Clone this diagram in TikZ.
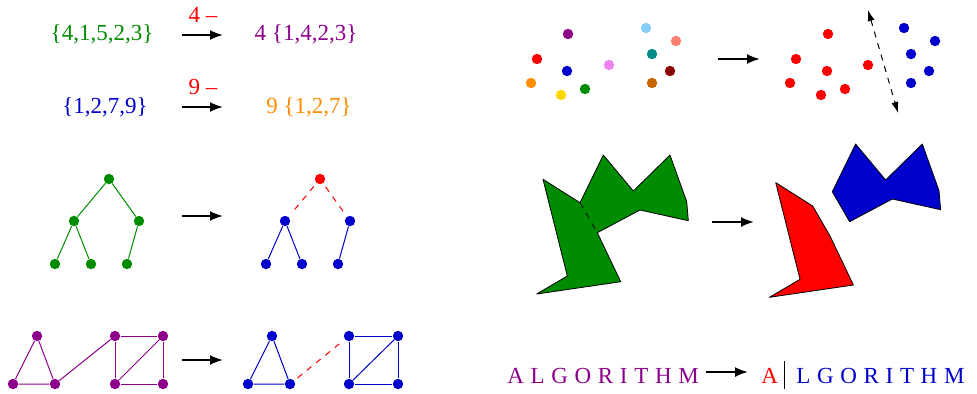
\documentclass[tikz,border=0pt]{standalone}
\usepackage{fontspec}
\setmainfont{Liberation Serif}
\usetikzlibrary{arrows.meta}

\definecolor{setgreen}{RGB}{0,140,0}
\definecolor{setpurple}{RGB}{140,0,140}
\definecolor{setblue}{RGB}{0,0,205}
\definecolor{setorange}{RGB}{255,140,0}
\definecolor{dotgold}{RGB}{255,215,0}
\definecolor{dotviolet}{RGB}{238,130,238}
\definecolor{dotsky}{RGB}{135,206,250}
\definecolor{dotsalmon}{RGB}{250,128,114}
\definecolor{dotteal}{RGB}{0,139,139}
\definecolor{dotmaroon}{RGB}{139,0,0}
\definecolor{dotbrown}{RGB}{200,100,0}

\begin{document}
\begin{tikzpicture}[
    x=0.5pt, y=-0.5pt,
    every node/.style={font=\fontsize{11.5}{13}\selectfont},
    vertex/.style={circle, inner sep=0pt, minimum size=5.2pt},
    arrow/.style={-{Latex[length=6.5pt, width=5pt]}, line width=1pt},
    edge/.style={line width=0.5pt},
    cut/.style={red, dashed, line width=0.5pt, shorten <=2pt, shorten >=2pt},
    spaced/.style={font=\fontsize{11.5}{13}\selectfont\addfontfeature{LetterSpace=29}, inner sep=0pt, anchor=base west},
    piece/.style={draw=black, line width=0.4pt, line join=round}
]
    \useasboundingbox (0,0) rectangle (977,393);

    % Sets
    \node[text=setgreen] (setA) at (102,34) {\{4,1,5,2,3\}};
    \node[text=setpurple] (setA') at (306,34) {4 \{1,4,2,3\}};
    \node[text=red] (popA) at (203,15) {4 --};
    \node[text=setblue] (setB) at (105,107) {\{1,2,7,9\}};
    \node[text=setorange] (setB') at (309,107) {9 \{1,2,7\}};
    \node[text=red] (popB) at (203,87) {9 --};

    % Trees
    \node[vertex, fill=setgreen] (t0) at (109,179) {};
    \node[vertex, fill=setgreen] (t1) at (74,221) {};
    \node[vertex, fill=setgreen] (t2) at (139,221) {};
    \node[vertex, fill=setgreen] (t3) at (55,264) {};
    \node[vertex, fill=setgreen] (t4) at (91,264) {};
    \node[vertex, fill=setgreen] (t5) at (127,264) {};
    \node[vertex, fill=red] (u0) at (320,179) {};
    \node[vertex, fill=setblue] (u1) at (285,221) {};
    \node[vertex, fill=setblue] (u2) at (350,221) {};
    \node[vertex, fill=setblue] (u3) at (266,264) {};
    \node[vertex, fill=setblue] (u4) at (302,264) {};
    \node[vertex, fill=setblue] (u5) at (338,264) {};

    \draw[edge, setgreen] (t0) -- (t1);
    \draw[edge, setgreen] (t0) -- (t2);
    \draw[edge, setgreen] (t1) -- (t3);
    \draw[edge, setgreen] (t1) -- (t4);
    \draw[edge, setgreen] (t2) -- (t5);
    \draw[cut] (u0) -- (u1);
    \draw[cut] (u0) -- (u2);
    \draw[edge, setblue] (u1) -- (u3);
    \draw[edge, setblue] (u1) -- (u4);
    \draw[edge, setblue] (u2) -- (u5);

    % Graphs
    \node[vertex, fill=setpurple] (g1) at (37,336) {};
    \node[vertex, fill=setpurple] (g2) at (13,384) {};
    \node[vertex, fill=setpurple] (g3) at (55,384) {};
    \node[vertex, fill=setpurple] (g4) at (115,336) {};
    \node[vertex, fill=setpurple] (g5) at (163,336) {};
    \node[vertex, fill=setpurple] (g6) at (115,384) {};
    \node[vertex, fill=setpurple] (g7) at (163,384) {};
    \node[vertex, fill=setblue] (h1) at (272,336) {};
    \node[vertex, fill=setblue] (h2) at (248,384) {};
    \node[vertex, fill=setblue] (h3) at (290,384) {};
    \node[vertex, fill=setblue] (h4) at (349,336) {};
    \node[vertex, fill=setblue] (h5) at (398,336) {};
    \node[vertex, fill=setblue] (h6) at (349,384) {};
    \node[vertex, fill=setblue] (h7) at (398,384) {};

    \draw[edge, setpurple] (g1) -- (g2) -- (g3) -- (g1);
    \draw[edge, setpurple] (g3) -- (g4);
    \draw[edge, setpurple] (g4) -- (g5) -- (g7) -- (g6) -- (g4);
    \draw[edge, setpurple] (g6) -- (g5);
    \draw[edge, setblue] (h1) -- (h2) -- (h3) -- (h1);
    \draw[cut] (h3) -- (h4);
    \draw[edge, setblue] (h4) -- (h5) -- (h7) -- (h6) -- (h4);
    \draw[edge, setblue] (h6) -- (h5);

    % Points
    \node[vertex, fill=setpurple] (p1) at (568,34) {};
    \node[vertex, fill=red] (p2) at (537,59) {};
    \node[vertex, fill=setblue] (p3) at (567,71) {};
    \node[vertex, fill=setorange] (p4) at (531,83) {};
    \node[vertex, fill=dotgold] (p5) at (561,95) {};
    \node[vertex, fill=setgreen] (p6) at (585,89) {};
    \node[vertex, fill=dotviolet] (p7) at (609,65) {};
    \node[vertex, fill=dotsky] (p8) at (646,28) {};
    \node[vertex, fill=dotsalmon] (p9) at (676,41) {};
    \node[vertex, fill=dotteal] (p10) at (652,54) {};
    \node[vertex, fill=dotmaroon] (p11) at (670,71) {};
    \node[vertex, fill=dotbrown] (p12) at (652,83) {};
    \node[vertex, fill=red] (q1) at (828,34) {};
    \node[vertex, fill=red] (q2) at (796,59) {};
    \node[vertex, fill=red] (q3) at (827,71) {};
    \node[vertex, fill=red] (q4) at (790,83) {};
    \node[vertex, fill=red] (q5) at (821,95) {};
    \node[vertex, fill=red] (q6) at (845,89) {};
    \node[vertex, fill=red] (q7) at (868,65) {};
    \node[vertex, fill=setblue] (q8) at (904,28) {};
    \node[vertex, fill=setblue] (q9) at (935,41) {};
    \node[vertex, fill=setblue] (q10) at (911,54) {};
    \node[vertex, fill=setblue] (q11) at (929,71) {};
    \node[vertex, fill=setblue] (q12) at (911,83) {};
    \coordinate (sepTop) at (868,10);
    \coordinate (sepBot) at (898,113);
    \draw[dashed, line width=0.5pt, {Latex[length=5.5pt, width=3.5pt]}-{Latex[length=5.5pt, width=3.5pt]}] (sepTop) -- (sepBot);

    % Polygons
    \fill[setgreen] (543,179.3) -- (580,202.7) -- (603.3,155) -- (633.3,191) -- (670,155)
        -- (686.7,201.7) -- (688.3,220.7) -- (640,210) -- (597.3,232.7) -- (620.7,281.7)
        -- (536.7,294) -- (567.3,276) -- cycle;
    \draw[piece] (543,179.3) -- (580,202.7) -- (603.3,155) -- (633.3,191) -- (670,155)
        -- (686.7,201.7) -- (688.3,220.7) -- (640,210) -- (597.3,232.7) -- (620.7,281.7)
        -- (536.7,294) -- (567.3,276) -- cycle;
    \draw[piece, dashed] (580,202.7) -- (597.3,232.7);
    \filldraw[piece, fill=red] (775.7,182.6) -- (812.7,206) -- (830,236) -- (853.4,285)
        -- (769.4,297.3) -- (800,279.3) -- cycle;
    \filldraw[piece, fill=setblue] (832.3,191.7) -- (855.6,144) -- (885.6,180) -- (922.3,144)
        -- (939,190.7) -- (940.6,209.7) -- (892.3,199) -- (849.6,221.7) -- cycle;

    % Word
    \node[spaced, text=setpurple] (word) at (507,383) {ALGORITHM};
    \node[spaced, text=red] (head) at (761,383) {A};
    \node[spaced, text=setblue] (tail) at (796,383) {LGORITHM};
    \coordinate (barTop) at (784,361);
    \coordinate (barBot) at (784,389);
    \draw[line width=0.5pt] (barTop) -- (barBot);

    % Arrows
    \coordinate (a1s) at (182,35);   \coordinate (a1e) at (223,35);
    \coordinate (a2s) at (182,107);  \coordinate (a2e) at (223,107);
    \coordinate (a3s) at (182,216);  \coordinate (a3e) at (223,216);
    \coordinate (a4s) at (182,360);  \coordinate (a4e) at (223,360);
    \coordinate (a5s) at (718,59);   \coordinate (a5e) at (760,59);
    \coordinate (a6s) at (712,222);  \coordinate (a6e) at (754,222);
    \coordinate (a7s) at (706,372);  \coordinate (a7e) at (748,372);
    \draw[arrow] (a1s) -- (a1e);
    \draw[arrow] (a2s) -- (a2e);
    \draw[arrow] (a3s) -- (a3e);
    \draw[arrow] (a4s) -- (a4e);
    \draw[arrow] (a5s) -- (a5e);
    \draw[arrow] (a6s) -- (a6e);
    \draw[arrow] (a7s) -- (a7e);
\end{tikzpicture}
\end{document}
